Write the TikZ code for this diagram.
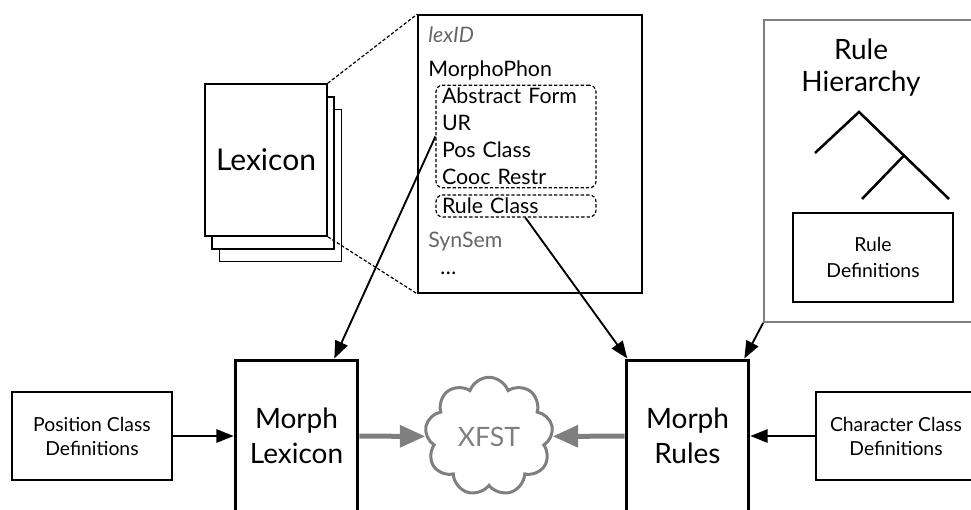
\documentclass[tikz,border=0pt]{standalone}
\usepackage{fontspec}
\setmainfont{Lato}
\usetikzlibrary{arrows.meta,shapes.symbols}
\definecolor{slate}{HTML}{7F7F7F}
\definecolor{ink}{HTML}{666666}

\begin{document}
\begin{tikzpicture}[x=0.75pt,y=-0.75pt,
  sheet/.style={draw,line width=1.2pt,fill=white,minimum width=91.5pt,minimum height=114pt},
  group/.style={draw,dashed,dash pattern=on 2.5pt off 1.5pt,line width=0.9pt,rounded corners=5pt,
    inner xsep=4.5pt,inner ysep=2pt,text width=111pt,align=left},
  module/.style={draw,line width=2.25pt,minimum width=92pt,minimum height=114pt,align=center,
    font=\fontsize{21}{26}\selectfont},
  defs/.style={draw,line width=1.2pt,minimum width=120pt,minimum height=66pt,align=center,
    font=\fontsize{14.5}{18}\selectfont},
  link/.style={-{Triangle[length=13pt,width=10pt]},line width=1.4pt},
  feed/.style={-{Triangle[length=19pt,width=16pt]},line width=3.75pt,draw=slate}]
  \clip (0,0) rectangle (971,510);

  % lexicon pages
  \node[sheet] (page3) at (280.5,185.5) {};
  \node[sheet] (page2) at (273,173) {};
  \node[sheet,font=\fontsize{22.5}{28}\selectfont] (page1) at (266,160) {Lexicon};

  % one lexicon entry
  \node[draw,line width=1.2pt,minimum width=168pt,minimum height=208.5pt] (entry) at (530,154) {};
  \begin{scope}[font=\fontsize{16}{20.2}\selectfont,inner sep=0pt]
    \node[anchor=west,text=ink] (lexid) at (428,35) {\itshape lexID};
    \node[anchor=west] (phon) at (428,70) {MorphoPhon};
    \node[group,minimum height=77pt] (form) at (516,136.5)
      {Abstract Form\\UR\\Pos Class\\Cooc Restr};
    \node[group,minimum height=16.5pt] (ruleclass) at (516,206) {Rule Class};
    \node[anchor=west,text=ink] (synsem) at (428,242) {SynSem};
    \node[anchor=west] (more) at (440,273) {\ldots};
  \end{scope}
  \draw[dashed,dash pattern=on 2.5pt off 1.5pt,line width=0.9pt] (page1.north east) -- (entry.north west);
  \draw[dashed,dash pattern=on 2.5pt off 1.5pt,line width=0.9pt] (page1.south east) -- (entry.south west);

  % rule hierarchy
  \node[draw=slate,line width=1.2pt,minimum width=165.75pt,minimum height=226.5pt] (hier) at (874.5,171) {};
  \node[font=\fontsize{21}{24}\selectfont,align=center] (hiertitle) at (861,68) {Rule\\Hierarchy};
  \draw[line width=1.9pt] (815,153) -- (859,112) -- (949,199);
  \draw[line width=1.9pt] (904,155.5) -- (862,199);
  \node[defs,minimum height=67pt,font=\fontsize{14.5}{20}\selectfont] (ruledefs) at (873,257.5) {Rule\\Definitions};

  % modules
  \node[module] (mlex) at (296.5,436) {Morph\\Lexicon};
  \node[module] (mrules) at (687.5,436) {Morph\\Rules};
  \node[defs] (posdefs) at (92,436) {Position Class\\Definitions};
  \node[defs] (chardefs) at (896,436) {Character Class\\Definitions};
  \node[cloud,cloud puffs=9,cloud puff arc=140,draw=slate,line width=2.25pt,fill=white,text=slate,
    minimum width=96pt,minimum height=65pt,font=\fontsize{20}{24}\selectfont] (xfst) at (489,436.5) {XFST};

  \draw[link] (form.west) -- ([xshift=-18.75pt]mlex.north east);
  \draw[link] ([xshift=7pt]ruleclass.south) -- ([xshift=2pt]mrules.north west);
  \draw[link] (hier.south west) -- ([xshift=-4.5pt]mrules.north east);
  \draw[link] (posdefs) -- (mlex);
  \draw[link] (chardefs) -- (mrules);
  \draw[feed] (mlex) -- (xfst);
  \draw[feed] (mrules) -- (xfst);
\end{tikzpicture}
\end{document}
